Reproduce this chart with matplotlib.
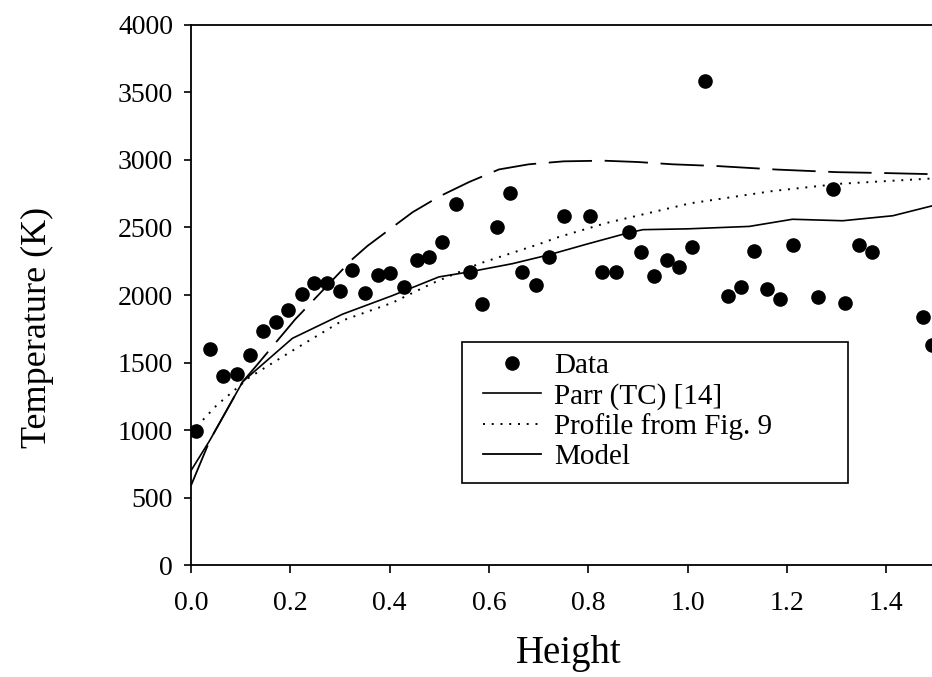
import matplotlib
matplotlib.use("Agg")
import matplotlib.pyplot as plt
from matplotlib.patches import Rectangle

# measured points
data_x = [0.009, 0.038, 0.064, 0.092, 0.119, 0.145, 0.171, 0.196, 0.223, 0.248,
          0.273, 0.300, 0.325, 0.351, 0.377, 0.401, 0.428, 0.454, 0.479, 0.506,
          0.534, 0.561, 0.586, 0.617, 0.643, 0.667, 0.694, 0.721, 0.750, 0.803,
          0.828, 0.855, 0.882, 0.907, 0.933, 0.958, 0.983, 1.008, 1.034, 1.082,
          1.107, 1.134, 1.159, 1.185, 1.213, 1.263, 1.292, 1.316, 1.345, 1.371,
          1.473, 1.492]
data_t = [990, 1600, 1403, 1416, 1555, 1737, 1803, 1889, 2008, 2092,
          2092, 2029, 2187, 2016, 2147, 2166, 2061, 2258, 2284, 2389,
          2671, 2171, 1934, 2500, 2758, 2171, 2074, 2284, 2587, 2587,
          2171, 2171, 2463, 2318, 2139, 2258, 2205, 2358, 3582, 1995,
          2061, 2329, 2042, 1968, 2371, 1987, 2784, 1942, 2368, 2316,
          1837, 1626]

# Parr (TC) [14]
parr_x = [0.0, 0.038, 0.104, 0.204, 0.305, 0.405, 0.499, 0.56, 0.647, 0.72,
          0.80, 0.88, 0.91, 1.0, 1.124, 1.211, 1.312, 1.413, 1.492]
parr_t = [700, 925, 1358, 1679, 1858, 1995, 2134, 2171, 2232, 2297,
          2380, 2460, 2484, 2490, 2508, 2561, 2550, 2587, 2660]

# profile from fig. 9
prof_x = [0.0, 0.021, 0.052, 0.084, 0.117, 0.198, 0.305, 0.405, 0.486, 0.58,
          0.70, 0.74, 0.837, 1.005, 1.173, 1.307, 1.492]
prof_t = [980, 1063, 1185, 1284, 1389, 1574, 1811, 1942, 2087, 2232,
          2376, 2429, 2534, 2679, 2771, 2824, 2863]

# model
model_x = [0.0, 0.038, 0.104, 0.131, 0.21, 0.238, 0.325, 0.355, 0.446, 0.50,
           0.56, 0.62, 0.68, 0.75, 0.83, 0.90, 0.97, 1.06, 1.18, 1.30,
           1.40, 1.492]
model_t = [590, 925, 1358, 1474, 1821, 1929, 2266, 2363, 2613, 2730,
           2837, 2930, 2968, 2990, 2995, 2985, 2968, 2955, 2929, 2910,
           2903, 2895]

plt.rcParams['font.family'] = ['Liberation Serif', 'DejaVu Serif']

fig = plt.figure(figsize=(9.32, 6.77), dpi=100)
ax = fig.add_axes([0.205, 0.1654, 0.795, 0.7977])

ax.plot(data_x, data_t, 'o', color='black', markersize=9.5, label='Data')
ax.plot(parr_x, parr_t, '-', color='black', lw=1.2, label='Parr (TC) [14]')
ax.plot(prof_x, prof_t, color='black', lw=1.4, dashes=(1, 3.5),
        label='Profile from Fig. 9')
ax.plot(model_x, model_t, color='black', lw=1.3, dashes=(24, 7), label='Model')

ax.set_xlim(0, 1.492)
ax.set_ylim(0, 4000)
ax.set_xticks([0.0, 0.2, 0.4, 0.6, 0.8, 1.0, 1.2, 1.4])
ax.set_yticks(range(0, 4001, 500))
ax.tick_params(axis='x', direction='out', length=6, width=1.2, pad=13, labelsize=20)
ax.tick_params(axis='y', direction='out', length=5, width=1.2, pad=8, labelsize=20)
ax.spines['right'].set_visible(False)
for s in ['left', 'top', 'bottom']:
    ax.spines[s].set_linewidth(1.3)

ax.set_xlabel('Height', fontsize=28)
ax.set_ylabel('Temperature (K)', fontsize=26)
ax.xaxis.set_label_coords(0.509, -0.13)
ax.yaxis.set_label_coords(-0.185, 0.44)

leg = ax.legend(loc='upper left', bbox_to_anchor=(0.394, 0.393), frameon=False,
                fontsize=21, handlelength=2.0, handletextpad=0.45,
                labelspacing=0.12, borderpad=0, borderaxespad=0)
# model handle shows as one plain dash in the key
leg.get_lines()[3].set_linestyle('-')
ax.add_patch(Rectangle((0.366, 0.152), 0.521, 0.261, transform=ax.transAxes,
                       fill=False, edgecolor='black', lw=1.2, zorder=5))

fig.savefig('out.png', dpi=100)
